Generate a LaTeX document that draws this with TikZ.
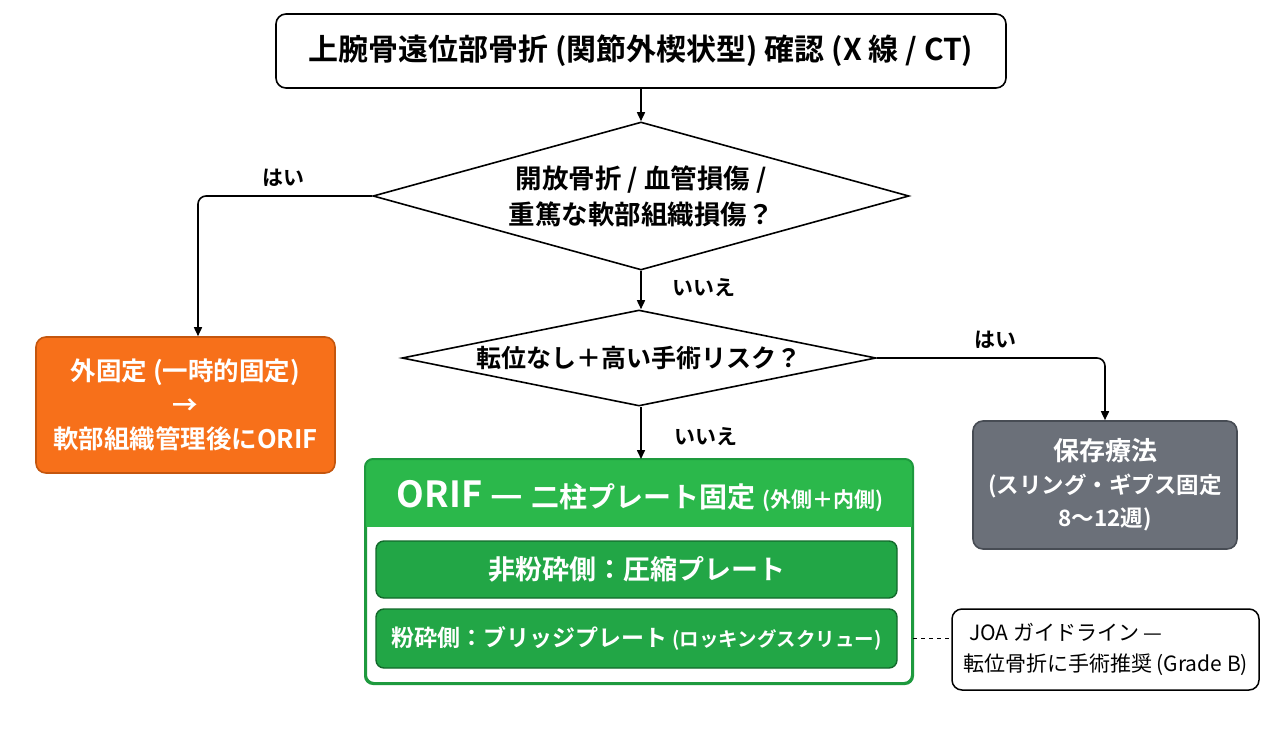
\documentclass[tikz,border=0pt]{standalone}
\usepackage{fontspec}
\setmainfont{Noto Sans CJK JP}[BoldFont={Noto Sans CJK JP Bold}]
\usetikzlibrary{shapes.geometric,arrows.meta}
\definecolor{orangef}{HTML}{F7701A}
\definecolor{oranged}{HTML}{C4560E}
\definecolor{greyf}{HTML}{6B7079}
\definecolor{greyd}{HTML}{474C54}
\definecolor{greenh}{HTML}{2BB84B}
\definecolor{greeni}{HTML}{22A646}
\definecolor{greend}{HTML}{12692B}
\definecolor{greeno}{HTML}{1E9A3E}
\tikzset{
  every node/.style={font=\bfseries},
  box/.style={draw=black, line width=1.6pt, rounded corners=10pt, fill=white, align=center, inner sep=0pt},
  dia/.style={draw=black, line width=1.6pt, shape=diamond, aspect=3.6, inner sep=0pt, align=center, fill=white},
  arr/.style={-{Triangle[length=9pt,width=8pt]}, line width=1.6pt},
  lbl/.style={font=\bfseries\fontsize{21}{24}\selectfont, inner sep=0pt},
  wtxt/.style={text=white},
}
\begin{document}
\begin{tikzpicture}[x=1pt,y=-1pt]
\useasboundingbox[fill=white] (0,0) rectangle (1280,731);

\node[box, minimum width=730pt, minimum height=74pt, font=\bfseries\fontsize{30}{36}\selectfont] (top) at (641,51)
  {上腕骨遠位部骨折 (関節外楔状型) 確認 (X 線 / CT)};

\node[dia, minimum width=536pt, minimum height=148pt, font=\bfseries\fontsize{26.5}{36}\selectfont] (d1) at (641,196)
  {開放骨折 / 血管損傷 /\\重篤な軟部組織損傷？};

\node[dia, aspect=5, minimum width=474pt, minimum height=96pt, font=\bfseries\fontsize{25}{32}\selectfont] (d2) at (639,358)
  {転位なし＋高い手術リスク？};

\node[box, draw=oranged, fill=orangef, minimum width=299pt, minimum height=136pt, wtxt, font=\bfseries\fontsize{25.5}{34}\selectfont] (orange) at (185.5,405)
  {外固定 (一時的固定)\\→\\軟部組織管理後にORIF};

\node[box, draw=greyd, fill=greyf, minimum width=264pt, minimum height=128pt, wtxt, font=\bfseries\fontsize{22.5}{33}\selectfont] (grey) at (1105,485)
  {{\fontsize{26}{33}\selectfont 保存療法}\\(スリング・ギプス固定\\8〜12週)};

\node[box, draw=greeno, line width=2pt, rounded corners=8pt, minimum width=546pt, minimum height=223pt] (orif) at (639,571.5) {};
\begin{scope}
  \clip[rounded corners=8pt] (orif.north west) rectangle (orif.south east);
  \fill[greenh] (orif.north west) rectangle ([yshift=-68pt]orif.north east);
\end{scope}
\draw[greeno, line width=2pt, rounded corners=8pt] (orif.north west) rectangle (orif.south east);
\node[text=white, inner sep=0pt] (orifh) at (640,496)
  {{\fontsize{36}{38}\selectfont ORIF — }{\fontsize{28}{36}\selectfont 二柱プレート固定}\hspace{7pt}{\fontsize{21}{26}\selectfont (外側＋内側)}};

\node[box, draw=greend, fill=greeni, rounded corners=8pt, line width=1.4pt, minimum width=521pt, minimum height=57pt, wtxt, font=\bfseries\fontsize{27}{30}\selectfont] (in1) at (636.5,569.5)
  {非粉砕側：圧縮プレート};
\node[box, draw=greend, fill=greeni, rounded corners=8pt, line width=1.4pt, minimum width=521pt, minimum height=59pt, wtxt, font=\bfseries\fontsize{23}{30}\selectfont] (in2) at (636.5,638.5)
  {粉砕側：ブリッジプレート {\fontsize{19.5}{30}\selectfont (ロッキングスクリュー)}};

\node[box, line width=1.5pt, minimum width=307pt, minimum height=81pt, align=left, font=\fontsize{21}{31}\selectfont] (note) at (1105.5,649.5)
  {\hspace{6pt}JOA ガイドライン —\\転位骨折に手術推奨 (Grade B)};

\draw[arr] (top.south) -- (d1.north);
\draw[arr, rounded corners=8pt] (d1.west) -| ([xshift=12.5pt]orange.north);
\draw[arr] (d1.south) -- (d2.north -| d1.south);
\draw[arr, rounded corners=8pt] (d2.east) -| (grey.north);
\draw[arr] (d2.south -| d1.south) -- (orif.north -| d1.south);
\draw[line width=1.5pt, dash pattern=on 4pt off 4pt] (orif.east |- in2.east) -- (note.west |- in2.east);

\node[lbl] (l1) at (283,178) {はい};
\node[lbl] (l2) at (704,288) {いいえ};
\node[lbl] (l3) at (995,340) {はい};
\node[lbl] (l4) at (706,437) {いいえ};
\end{tikzpicture}
\end{document}
